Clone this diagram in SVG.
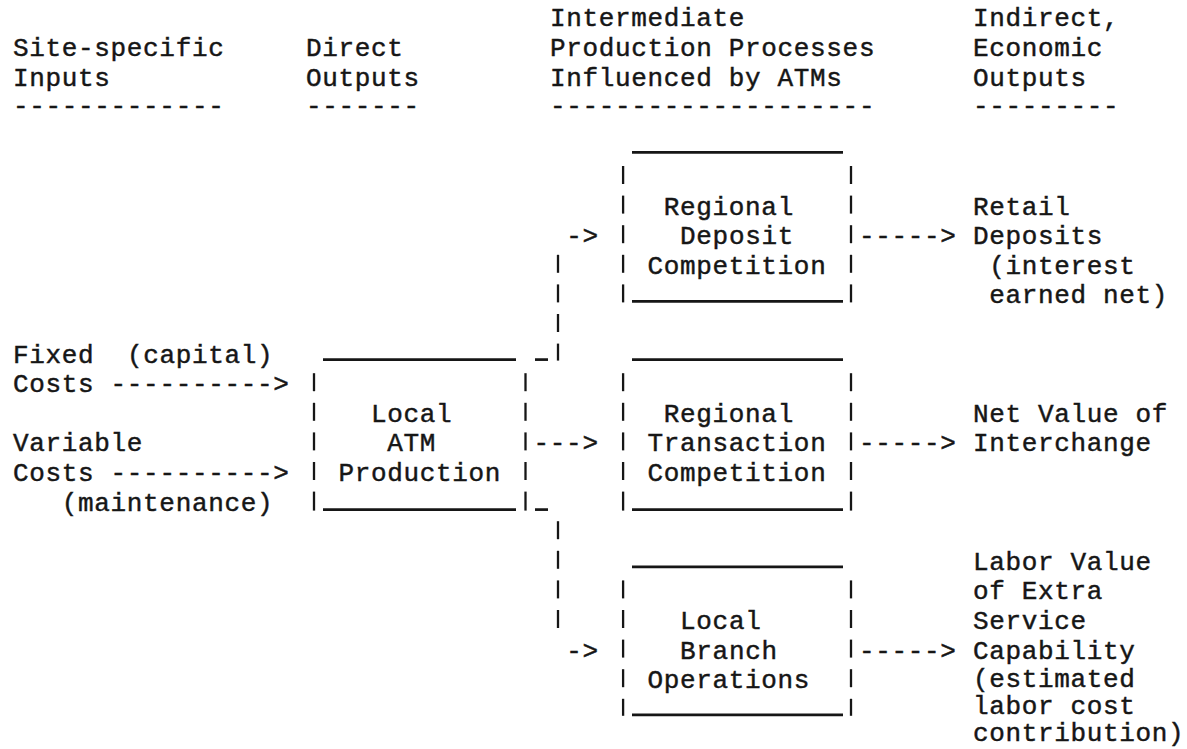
<svg xmlns="http://www.w3.org/2000/svg" width="1187" height="749" viewBox="0 0 1187 749">
<style>
.t{font-family:"Liberation Mono","DejaVu Sans Mono",monospace;font-size:26px;letter-spacing:0.66px;fill:#161616;stroke:#161616;stroke-width:0.45;white-space:pre}
.b{stroke:#161616;stroke-width:2.3;fill:none}
.u{stroke:#161616;stroke-width:2.7;fill:none}
</style>
<rect width="1187" height="749" fill="#ffffff"/>
<g id="headers">
<text class="t" x="549.9" y="26">Intermediate</text>
<text class="t" x="972.9" y="26">Indirect,</text>
<text class="t" x="13" y="56">Site-specific</text>
<text class="t" x="305.9" y="56">Direct</text>
<text class="t" x="549.9" y="56">Production Processes</text>
<text class="t" x="972.9" y="56">Economic</text>
<text class="t" x="13" y="86">Inputs</text>
<text class="t" x="305.9" y="86">Outputs</text>
<text class="t" x="549.9" y="86">Influenced by ATMs</text>
<text class="t" x="972.9" y="86">Outputs</text>
<text class="t" x="13" y="114">-------------</text>
<text class="t" x="305.9" y="114">-------</text>
<text class="t" x="549.9" y="114">--------------------</text>
<text class="t" x="972.9" y="114">---------</text>
</g>
<g id="node-inputs">
<text class="t" x="13" y="362.6">Fixed</text>
<text class="t" x="126.9" y="362.6">(capital)</text>
<text class="t" x="13" y="392.2">Costs</text>
<text class="t" x="13" y="451.4">Variable</text>
<text class="t" x="13" y="481">Costs</text>
<text class="t" x="61.8" y="510.6">(maintenance)</text>
</g>
<g id="node-atm">
<line class="u" x1="323" y1="359.6" x2="516" y2="359.6"/>
<line class="u" x1="323" y1="509.6" x2="516" y2="509.6"/>
<line class="b" x1="314" y1="373.2" x2="314" y2="391.2"/>
<line class="b" x1="314" y1="402.8" x2="314" y2="420.8"/>
<line class="b" x1="314" y1="432.4" x2="314" y2="450.4"/>
<line class="b" x1="314" y1="462" x2="314" y2="480"/>
<line class="b" x1="314" y1="491.6" x2="314" y2="510.6"/>
<line class="b" x1="525.5" y1="373.2" x2="525.5" y2="391.2"/>
<line class="b" x1="525.5" y1="402.8" x2="525.5" y2="420.8"/>
<line class="b" x1="525.5" y1="432.4" x2="525.5" y2="450.4"/>
<line class="b" x1="525.5" y1="462" x2="525.5" y2="480"/>
<line class="b" x1="525.5" y1="491.6" x2="525.5" y2="510.6"/>
<text class="t" x="370.9" y="421.8">Local</text>
<text class="t" x="387.2" y="451.4">ATM</text>
<text class="t" x="338.4" y="481">Production</text>
</g>
<g id="node-deposit">
<line class="u" x1="632" y1="152.4" x2="843" y2="152.4"/>
<line class="u" x1="632" y1="301.4" x2="843" y2="301.4"/>
<line class="b" x1="623.1" y1="166" x2="623.1" y2="184"/>
<line class="b" x1="623.1" y1="195.6" x2="623.1" y2="213.6"/>
<line class="b" x1="623.1" y1="225.2" x2="623.1" y2="243.2"/>
<line class="b" x1="623.1" y1="254.8" x2="623.1" y2="272.8"/>
<line class="b" x1="623.1" y1="284.4" x2="623.1" y2="302.4"/>
<line class="b" x1="851" y1="166" x2="851" y2="184"/>
<line class="b" x1="851" y1="195.6" x2="851" y2="213.6"/>
<line class="b" x1="851" y1="225.2" x2="851" y2="243.2"/>
<line class="b" x1="851" y1="254.8" x2="851" y2="272.8"/>
<line class="b" x1="851" y1="284.4" x2="851" y2="302.4"/>
<text class="t" x="663.8" y="214.6">Regional</text>
<text class="t" x="680.1" y="244.2">Deposit</text>
<text class="t" x="647.5" y="273.8">Competition</text>
</g>
<g id="node-transaction">
<line class="u" x1="632" y1="359.6" x2="843" y2="359.6"/>
<line class="u" x1="632" y1="509.6" x2="843" y2="509.6"/>
<line class="b" x1="623.1" y1="373.2" x2="623.1" y2="391.2"/>
<line class="b" x1="623.1" y1="402.8" x2="623.1" y2="420.8"/>
<line class="b" x1="623.1" y1="432.4" x2="623.1" y2="450.4"/>
<line class="b" x1="623.1" y1="462" x2="623.1" y2="480"/>
<line class="b" x1="623.1" y1="491.6" x2="623.1" y2="510.6"/>
<line class="b" x1="851" y1="373.2" x2="851" y2="391.2"/>
<line class="b" x1="851" y1="402.8" x2="851" y2="420.8"/>
<line class="b" x1="851" y1="432.4" x2="851" y2="450.4"/>
<line class="b" x1="851" y1="462" x2="851" y2="480"/>
<line class="b" x1="851" y1="491.6" x2="851" y2="510.6"/>
<text class="t" x="663.8" y="421.8">Regional</text>
<text class="t" x="647.5" y="451.4">Transaction</text>
<text class="t" x="647.5" y="481">Competition</text>
</g>
<g id="node-branch">
<line class="u" x1="632" y1="566.8" x2="843" y2="566.8"/>
<line class="u" x1="632" y1="714.8" x2="843" y2="714.8"/>
<line class="b" x1="623.1" y1="580.4" x2="623.1" y2="598.4"/>
<line class="b" x1="623.1" y1="610" x2="623.1" y2="628"/>
<line class="b" x1="623.1" y1="639.6" x2="623.1" y2="657.6"/>
<line class="b" x1="623.1" y1="669.2" x2="623.1" y2="687.2"/>
<line class="b" x1="623.1" y1="698.8" x2="623.1" y2="715.8"/>
<line class="b" x1="851" y1="580.4" x2="851" y2="598.4"/>
<line class="b" x1="851" y1="610" x2="851" y2="628"/>
<line class="b" x1="851" y1="639.6" x2="851" y2="657.6"/>
<line class="b" x1="851" y1="669.2" x2="851" y2="687.2"/>
<line class="b" x1="851" y1="698.8" x2="851" y2="715.8"/>
<text class="t" x="680.1" y="629">Local</text>
<text class="t" x="680.1" y="658.6">Branch</text>
<text class="t" x="647.5" y="688.2">Operations</text>
</g>
<g id="node-retail-deposits">
<text class="t" x="972.9" y="214.6">Retail</text>
<text class="t" x="972.9" y="244.2">Deposits</text>
<text class="t" x="989.2" y="273.8">(interest</text>
<text class="t" x="989.2" y="303.4">earned net)</text>
</g>
<g id="node-interchange">
<text class="t" x="972.9" y="421.8">Net Value of</text>
<text class="t" x="972.9" y="451.4">Interchange</text>
</g>
<g id="node-labor">
<text class="t" x="972.9" y="569.8">Labor Value</text>
<text class="t" x="972.9" y="599.4">of Extra</text>
<text class="t" x="972.9" y="629">Service</text>
<text class="t" x="972.9" y="658.6">Capability</text>
<text class="t" x="972.9" y="687">(estimated</text>
<text class="t" x="972.9" y="714">labor cost</text>
<text class="t" x="972.9" y="741">contribution)</text>
</g>
<g id="connectors">
<text class="t" x="110.6" y="392.2">----------&gt;</text>
<text class="t" x="110.6" y="481">----------&gt;</text>
<text class="t" x="533.6" y="451.4">---&gt;</text>
<text class="t" x="566.2" y="244.2">-&gt;</text>
<text class="t" x="566.2" y="658.6">-&gt;</text>
<text class="t" x="859" y="244.2">-----&gt;</text>
<text class="t" x="859" y="451.4">-----&gt;</text>
<text class="t" x="859" y="658.6">-----&gt;</text>
<line class="u" x1="535" y1="359.6" x2="548" y2="359.6"/>
<line class="u" x1="535" y1="509.6" x2="548" y2="509.6"/>
<line class="b" x1="558" y1="254.8" x2="558" y2="272.8"/>
<line class="b" x1="558" y1="284.4" x2="558" y2="302.4"/>
<line class="b" x1="558" y1="314" x2="558" y2="332"/>
<line class="b" x1="558" y1="343.6" x2="558" y2="360.6"/>
<line class="b" x1="558" y1="521.2" x2="558" y2="539.2"/>
<line class="b" x1="558" y1="550.8" x2="558" y2="568.8"/>
<line class="b" x1="558" y1="580.4" x2="558" y2="598.4"/>
<line class="b" x1="558" y1="610" x2="558" y2="628"/>
</g>
</svg>
